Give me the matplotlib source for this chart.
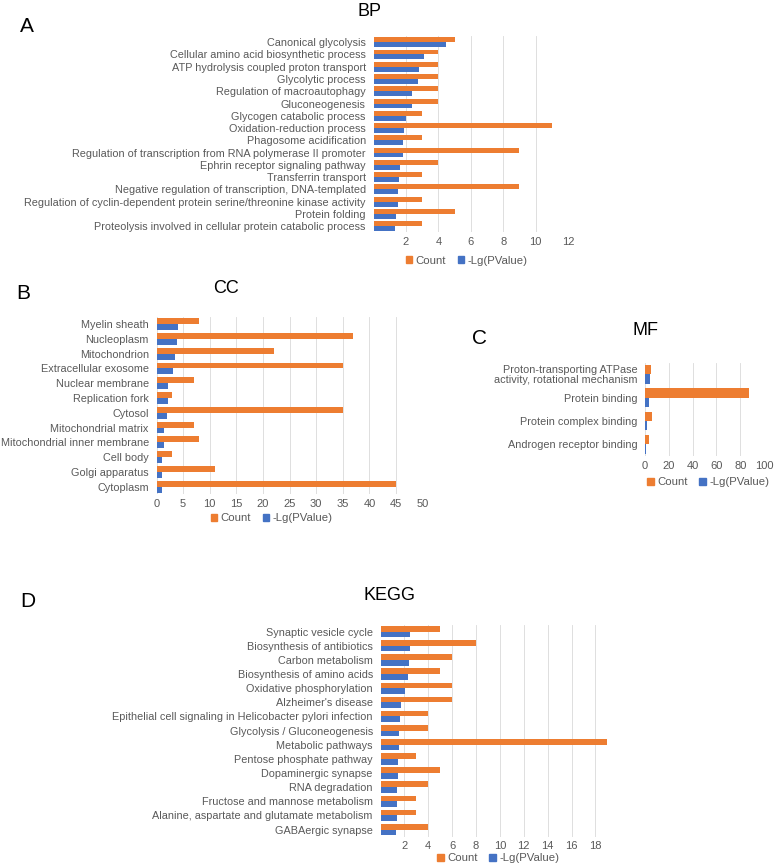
import numpy as np
import matplotlib
matplotlib.use("Agg")
from matplotlib import pyplot as plt
from matplotlib.patches import Patch

plt.rcParams['font.family'] = ['Liberation Sans', 'DejaVu Sans']

ORANGE = '#ED7D31'
BLUE = '#4472C4'
GRAY = '#595959'
GRID = '#D9D9D9'

# ---- data ----
bp_terms = [
    'Canonical glycolysis',
    'Cellular amino acid biosynthetic process',
    'ATP hydrolysis coupled proton transport',
    'Glycolytic process',
    'Regulation of macroautophagy',
    'Gluconeogenesis',
    'Glycogen catabolic process',
    'Oxidation-reduction process',
    'Phagosome acidification',
    'Regulation of transcription from RNA polymerase II promoter',
    'Ephrin receptor signaling pathway',
    'Transferrin transport',
    'Negative regulation of transcription, DNA-templated',
    'Regulation of cyclin-dependent protein serine/threonine kinase activity',
    'Protein folding',
    'Proteolysis involved in cellular protein catabolic process',
]
bp_count = [5, 4, 4, 4, 4, 4, 3, 11, 3, 9, 4, 3, 9, 3, 5, 3]
bp_lgp = [4.47, 3.09, 2.81, 2.74, 2.39, 2.39, 2.0, 1.9, 1.8, 1.8, 1.63, 1.6, 1.53, 1.51, 1.36, 1.33]

cc_terms = [
    'Myelin sheath', 'Nucleoplasm', 'Mitochondrion', 'Extracellular exosome',
    'Nuclear membrane', 'Replication fork', 'Cytosol', 'Mitochondrial matrix',
    'Mitochondrial inner membrane', 'Cell body', 'Golgi apparatus', 'Cytoplasm',
]
cc_count = [8, 37, 22, 35, 7, 3, 35, 7, 8, 3, 11, 45]
cc_lgp = [3.95, 3.85, 3.4, 3.1, 2.25, 2.15, 1.95, 1.5, 1.4, 1.1, 1.03, 1.03]

mf_terms = [
    'Proton-transporting ATPase\nactivity, rotational mechanism',
    'Protein binding',
    'Protein complex binding',
    'Androgen receptor binding',
]
mf_count = [5, 87, 6, 3]
mf_lgp = [4.0, 3.7, 2.0, 0.9]

kegg_terms = [
    'Synaptic vesicle cycle', 'Biosynthesis of antibiotics', 'Carbon metabolism',
    'Biosynthesis of amino acids', 'Oxidative phosphorylation', "Alzheimer's disease",
    'Epithelial cell signaling in Helicobacter pylori infection',
    'Glycolysis / Gluconeogenesis', 'Metabolic pathways', 'Pentose phosphate pathway',
    'Dopaminergic synapse', 'RNA degradation', 'Fructose and mannose metabolism',
    'Alanine, aspartate and glutamate metabolism', 'GABAergic synapse',
]
kegg_count = [5, 8, 6, 5, 6, 6, 4, 4, 19, 3, 5, 4, 3, 3, 4]
kegg_lgp = [2.51, 2.43, 2.37, 2.32, 2.07, 1.68, 1.6, 1.57, 1.54, 1.49, 1.46, 1.4, 1.4, 1.35, 1.32]

W, H = 776, 867
fig = plt.figure(figsize=(W / 100, H / 100), dpi=100)


def px_axes(left, top, right, bottom):
    return fig.add_axes([left / W, 1 - bottom / H, (right - left) / W, (bottom - top) / H])


def draw_panel(box, terms, count, lgp, xmax, xticks, title, title_xy, letter_xy, letter, legend_xy):
    ax = px_axes(*box)
    y = np.arange(len(terms))
    ax.barh(y - 0.2, count, height=0.4, color=ORANGE, zorder=3)
    ax.barh(y + 0.2, lgp, height=0.4, color=BLUE, zorder=3)
    ax.set_ylim(len(terms) - 0.5, -0.5)
    ax.set_xlim(0, xmax)
    ax.set_yticks(y, terms)
    ax.set_xticks(xticks)
    for xt in xticks:
        ax.axvline(xt, color=GRID, lw=0.6, zorder=1)
    ax.tick_params(axis='y', length=0, pad=5.5, labelsize=7.8, labelcolor=GRAY)
    ax.tick_params(axis='x', length=0, pad=3.5, labelsize=8, labelcolor=GRAY)
    for lab in ax.get_yticklabels():
        lab.set_linespacing(0.9)
    for s in ax.spines.values():
        s.set_visible(False)
    handles = [Patch(color=ORANGE), Patch(color=BLUE)]
    ax.legend(handles, ['Count', '-Lg(PValue)'], ncol=2, loc='center',
              bbox_to_anchor=(legend_xy[0] / W, 1 - legend_xy[1] / H),
              bbox_transform=fig.transFigure, frameon=False,
              handlelength=0.6, handleheight=0.6, handletextpad=0.3,
              columnspacing=1.0, fontsize=8.2, labelcolor=GRAY, borderpad=0)
    fig.text(title_xy[0] / W, 1 - title_xy[1] / H, title, ha='center', va='center',
             fontsize=13, color='black')
    fig.text(letter_xy[0] / W, 1 - letter_xy[1] / H, letter, ha='center', va='center',
             fontsize=15, color='black')
    return ax


draw_panel((373.5, 36.1, 568, 232.3), bp_terms, bp_count, bp_lgp, 12,
           [2, 4, 6, 8, 10, 12], 'BP', (369.7, 11), (27.3, 26), 'A', (466.7, 260.7))

draw_panel((156.5, 316.8, 422.7, 494.0), cc_terms, cc_count, cc_lgp, 50,
           list(range(0, 51, 5)), 'CC', (226.3, 288.3), (23.3, 293.3), 'B', (271.7, 518.3))

draw_panel((645, 362.7, 764, 455.9), mf_terms, mf_count, mf_lgp, 100,
           [0, 20, 40, 60, 80, 100], 'MF', (645, 330.7), (479.3, 338.3), 'C', (708.3, 482.3))

draw_panel((380.5, 624.6, 608, 836.6), kegg_terms, kegg_count, kegg_lgp, 19.05,
           [2, 4, 6, 8, 10, 12, 14, 16, 18], 'KEGG', (389.5, 595), (27.7, 601.7), 'D', (498, 858.3))

fig.savefig('out.png', dpi=100)
